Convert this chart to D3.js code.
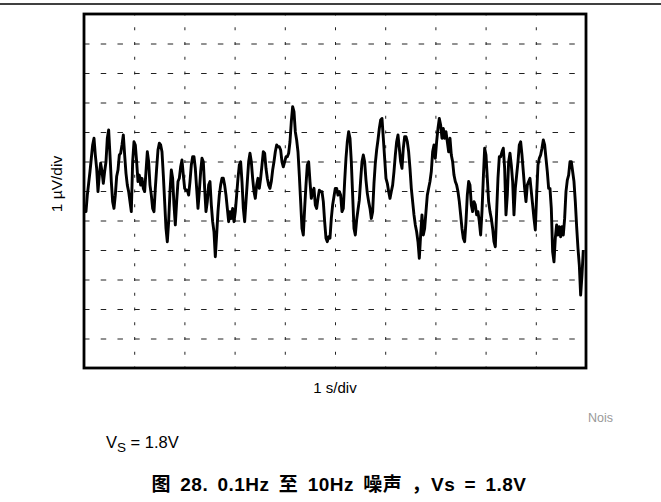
<!DOCTYPE html>
<html>
<head>
<meta charset="utf-8">
<script src="https://cdn.jsdelivr.net/npm/d3@7"></script>
<style>
  body { margin: 0; background: #fff; }
  svg { display: block; }
  text { font-family: "Liberation Sans", Arial, "Noto Sans CJK SC", sans-serif; }
</style>
</head>
<body>
<svg id="chart" width="661" height="502"></svg>
<script>
// scope capture, 10 s window, 1 uV/div vertical, 12 vertical divisions
const START_TIME = 0.013;      // s
const SAMPLE_PERIOD = 0.02656; // s
const X_DIVS = 10;
const Y_DIVS = 12;

// noise samples in uV
const noiseUV = [
  -0.47, -0.70, -0.14, 0.26, 0.66, 1.11, 1.56, 1.79, 1.22, 0.77, -0.02, 0.54, 0.94, 0.66, 0.26, 0.66,
  0.99, 1.79, 2.07, 1.22, 0.32, -0.36, -0.59, -0.14, 0.49, 0.71, 1.22, 1.28, 1.56, 1.90, 1.22, 0.60,
  0.20, -0.02, -0.36, -0.70, 0.99, 1.67, 1.56, 0.99, 0.32, 0.54, 0.20, 0.43, 0.09, -0.02, 0.66, 1.33,
  0.99, 0.20, -0.14, -0.59, -0.70, 0.09, 0.77, 1.39, 1.62, 1.56, 1.33, 0.54, -0.36, -1.27, -1.72, -1.04,
  -0.02, 0.71, 0.43, -0.47, -1.15, -0.36, 0.32, 0.43, 0.82, 1.05, 0.54, 0.09,
  // 2nd s
  0.03, 0.03, -0.14, 0.32, 0.88, 1.16, 1.16, 0.77, 0.09, -0.59, -0.02, 0.66, 1.11, 0.99, 0.09, -0.70,
  -0.36, 0.20, 0.32, -0.47, -1.04, -1.38, -2.23, -1.49, -0.70, -0.14, 0.20, 0.43, 0.43, 0.20, -0.14, -0.59,
  -1.04, -0.70, -0.93, -0.59, -1.04, -0.70, -0.14, 0.43, 0.88, 0.99, 0.32, -0.59, -1.04, -0.36, 0.32, 0.99,
  1.28, 0.99, 0.43, -0.02, -0.25, 0.20, 0.43, 0.09, 0.43, 0.88, 1.33, 1.28, 0.77, 0.43, 0.20, 0.09,
  0.32, 0.71, 0.99, 1.33, 1.56, 1.50, 1.50, 1.39, 0.99, 0.82, 0.99,
  // 4th s
  1.16, 1.16, 1.28, 1.67, 2.35, 2.86, 2.69, 2.01, 1.73, 1.33, 0.54, -0.36, -1.27, -1.49, -0.59, 0.20,
  0.88, 0.99, 0.32, -0.25, -0.02, 0.09, -0.47, -0.59, -0.25, 0.03, -0.02, -0.02, -0.36, -1.04, -1.60, -1.72,
  -1.55, -1.60, -0.93, -0.47, -0.19, 0.09, 0.09, -0.14, -0.02, -0.14, -0.70, -0.59, 0.32, 1.11, 1.67, 2.01,
  1.79, 0.99, -0.14, -1.27, -1.49, -0.98, -0.64, -0.31, 0.37, 0.99, 1.22, 0.99, 0.37, -0.08, -0.36, -0.59,
  -0.93, -0.70, 0.26, 0.94, 1.39, 1.73, 2.12, 2.41, 2.46, 1.79, 1.11,
  // 6th s
  0.43, 0.26, -0.02, -0.25, -0.02, 0.20, 0.66, 1.22, 1.67, 1.90, 1.45, 0.99, 0.77, 1.45, 1.84, 1.84,
  1.67, 1.33, 0.77, 0.09, -0.36, -0.81, -1.15, -1.38, -1.72, -2.28, -1.49, -0.81, -1.49, -1.27, -0.70, -0.14,
  0.09, 0.32, 0.66, 1.33, 1.56, 1.11, 1.67, 2.12, 2.46, 2.24, 1.79, 2.12, 1.79, 2.01, 1.67, 1.33,
  1.79, 1.22, 0.99, 0.54, 0.32, 0.20, -0.02, -0.36, -0.81, -1.27, -1.60, -1.72, -1.04, -0.14, 0.32, 0.20,
  -0.47, -0.70, -0.36, -0.47, -0.81, -0.70, -1.04, -1.49, -0.70, 0.43, 1.45,
  // 8th s
  1.22, 0.43, -0.36, -0.70, -0.93, -1.27, -1.72, -1.89, -0.70, 0.43, 1.16, 1.16, 1.33, 1.45, 0.77, -0.81,
  -0.14, 0.99, 1.28, 0.88, 0.32, -0.81, 0.09, 0.54, 0.99, 1.56, 1.67, 1.22, 0.66, 0.09, -0.36, 0.20,
  0.32, 0.43, -0.02, -0.47, -0.93, -1.32, -0.14, 0.88, 1.11, 1.22, 1.45, 1.73, 1.56, 1.11, 0.66, 0.09,
  0.09, -0.59, -2.06, -2.40, -1.60, -1.15, -1.49, -1.21, -1.55, -1.21, -1.49, -0.93, -0.02, 0.37, 0.54, 0.99,
  0.99, 0.66, 0.32, -0.36, -1.21, -1.94, -2.51, -3.53, -2.85, -2.00
];

const svg = d3.select("#chart");
const margin = { left: 84, top: 14, right: 75, bottom: 134 };
const width = 661 - margin.left - margin.right;
const height = 502 - margin.top - margin.bottom;

const x = d3.scaleLinear().domain([0, X_DIVS]).range([0, width]);
const y = d3.scaleLinear().domain([-Y_DIVS / 2, Y_DIVS / 2]).range([height, 0]);

// page rule at the very top
svg.append("line")
  .attr("x1", 0).attr("x2", 661)
  .attr("y1", 4).attr("y2", 4)
  .attr("stroke", "#000").attr("stroke-width", 1.5);

const g = svg.append("g").attr("transform", `translate(${margin.left},${margin.top})`);

// horizontal grid
const colW = x(1) - x(0);
const rowH = y(0) - y(1);
g.append("g")
  .attr("class", "hgrid")
  .call(d3.axisLeft(y).tickValues(d3.range(-Y_DIVS / 2 + 1, Y_DIVS / 2)).tickSize(-width).tickFormat(""))
  .call((s) => s.select(".domain").remove())
  .selectAll("line")
  .attr("stroke", "#222")
  .attr("stroke-width", 1)
  .attr("stroke-dasharray", `5.5,${colW / 3 - 5.5}`);

// vertical grid
g.append("g")
  .attr("class", "vgrid")
  .attr("transform", `translate(0,${height})`)
  .call(d3.axisBottom(x).tickValues(d3.range(1, X_DIVS)).tickSize(-height).tickFormat(""))
  .call((s) => s.select(".domain").remove())
  .selectAll("line")
  .attr("stroke", "#222")
  .attr("stroke-width", 1)
  .attr("stroke-dasharray", `3,${rowH / 2 - 3}`)
  .attr("stroke-dashoffset", 1.5);

// trace
const line = d3.line()
  .x((d, i) => x(START_TIME + i * SAMPLE_PERIOD))
  .y((d) => y(d));

g.append("path")
  .datum(noiseUV)
  .attr("fill", "none")
  .attr("stroke", "#000")
  .attr("stroke-width", 2.9)
  .attr("stroke-linejoin", "round")
  .attr("d", line);

// frame
g.append("rect")
  .attr("x", 0).attr("y", 0)
  .attr("width", width).attr("height", height)
  .attr("fill", "none")
  .attr("stroke", "#000")
  .attr("stroke-width", 2.8);

// axis titles
g.append("text")
  .attr("x", width / 2)
  .attr("y", height + 25)
  .attr("text-anchor", "middle")
  .attr("font-size", 15)
  .text("1 s/div");

svg.append("text")
  .attr("transform", `translate(62,${margin.top + height / 2 - 7}) rotate(-90)`)
  .attr("text-anchor", "middle")
  .attr("font-size", 15.5)
  .text("1 \u00b5V/div");

svg.append("text")
  .attr("x", 588).attr("y", 422)
  .attr("font-size", 12.5)
  .attr("fill", "#999")
  .text("Nois");

const vs = svg.append("text")
  .attr("x", 106).attr("y", 448)
  .attr("font-size", 16.5);
vs.append("tspan").text("V");
vs.append("tspan").attr("dy", 4).attr("font-size", 13.5).text("S");
vs.append("tspan").attr("dy", -4).text(" = 1.8V");

svg.append("text")
  .attr("x", 339).attr("y", 491)
  .attr("text-anchor", "middle")
  .attr("font-size", 19)
  .attr("font-weight", "bold")
  .attr("word-spacing", 3.5)
  .attr("letter-spacing", 0.5)
  .text("图 28. 0.1Hz 至 10Hz 噪声 ，Vs = 1.8V");
</script>
</body>
</html>
